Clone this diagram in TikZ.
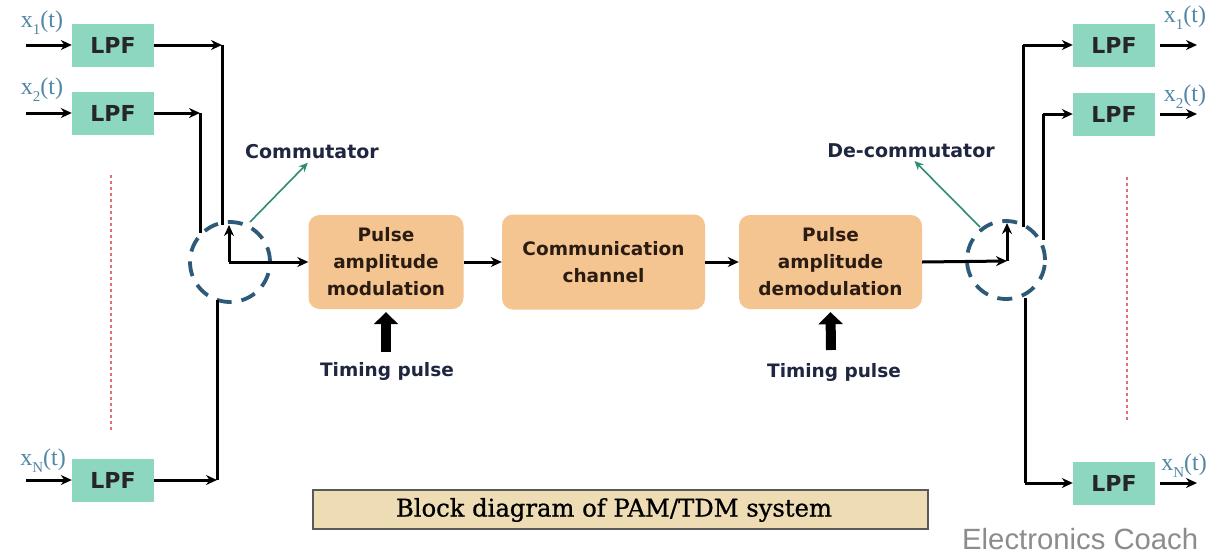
\documentclass[tikz,border=0pt]{standalone}
\usepackage{fontspec}
\usepackage{graphicx}
\usetikzlibrary{arrows.meta}
\newfontfamily\dvs{DejaVu Sans}
\newfontfamily\capfont[FakeBold=0.9]{DejaVu Serif}
\newfontfamily\lsans{Liberation Sans}
\newfontfamily\lserif{Liberation Serif}
\definecolor{lpfc}{RGB}{141,214,192}
\definecolor{orc}{RGB}{245,197,145}
\definecolor{circc}{RGB}{44,90,120}
\definecolor{navy}{RGB}{30,38,64}
\definecolor{ptr}{RGB}{46,139,116}
\definecolor{dotc}{RGB}{224,112,112}
\definecolor{capc}{RGB}{238,220,180}
\definecolor{xlab}{RGB}{80,135,165}
\definecolor{btxt}{RGB}{43,28,18}
\newcommand\xsig[1]{x\raisebox{-0.3em}{\fontsize{15}{15}\selectfont #1}(t)}
\begin{document}
\begin{tikzpicture}[x=1pt,y=-1pt,
  lpf/.style={fill=lpfc, minimum width=82pt, minimum height=43pt, inner sep=0pt, font=\dvs\bfseries\fontsize{22}{26}\selectfont, text=black!85},
  blk/.style={fill=orc, rounded corners=11pt, inner sep=0pt, align=center, font=\dvs\bfseries\fontsize{18.5}{27}\selectfont, text=btxt},
  ar/.style={line width=3pt, -{Stealth[length=11pt,width=10pt]}},
  ln/.style={line width=3pt},
  dcirc/.style={draw=circc, line width=3.8pt, dash pattern=on 15pt off 10pt},
  lab/.style={text=navy, font=\dvs\bfseries\fontsize{19}{23}\selectfont, inner sep=0pt},
  ptrline/.style={draw=ptr, line width=1.6pt, -{Stealth[length=9pt,width=8pt]}},
  dots/.style={draw=dotc, line width=1.8pt, dash pattern=on 3pt off 3pt},
  xl/.style={text=xlab, font=\lserif\fontsize{24}{26}\selectfont, inner sep=0pt},
  tarrow/.style={line width=10pt, -{Triangle[length=12pt,width=24pt]}},
]
\useasboundingbox[fill=white] (0,0) rectangle (1213,555);

% left LPFs
\node[lpf] (l1) at (113,45) {LPF};
\node[lpf] (l2) at (113,113) {LPF};
\node[lpf] (ln) at (113,480) {LPF};
% right LPFs
\node[lpf] (r1) at (1114,45) {LPF};
\node[lpf] (r2) at (1114,114) {LPF};
\node[lpf] (rn) at (1114,483) {LPF};

% main blocks
\node[blk, minimum width=155pt, minimum height=94pt] (pam) at (386,262) {Pulse\\amplitude\\modulation};
\node[blk, minimum width=203pt, minimum height=95pt] (ch) at (603.5,262) {Communication\\channel};
\node[blk, minimum width=183pt, minimum height=94pt] (dem) at (830.5,262) {Pulse\\amplitude\\demodulation};

% commutator circles
\node[circle, dcirc, minimum size=80pt, inner sep=0pt] (c1) at (230,262) {};
\node[circle, dcirc, minimum size=78pt, inner sep=0pt] (c2) at (1006,260) {};

% input labels and arrows
\node[xl] (xl1) at (42,23) {\xsig{1}};
\node[xl] (xl2) at (42,90) {\xsig{2}};
\node[xl] (xln) at (43,461) {\xsig{N}};
\coordinate (i1) at (26,45);
\coordinate (i2) at (26,113);
\coordinate (in) at (26,480);
\draw[ar] (i1) -- (l1.west);
\draw[ar] (i2) -- (l2.west);
\draw[ar] (in) -- (ln.west);

% left outputs to commutator
\coordinate (k1) at (222,45);
\coordinate (e1) at (222,225);
\coordinate (k2) at (200,113);
\coordinate (e2) at (200,233);
\coordinate (kn) at (217,480);
\coordinate (en) at (217,300);
\draw[ar] (l1.east) -- (k1);
\draw[ln] (k1) -- (e1);
\draw[ar] (l2.east) -- (k2);
\draw[ln] (k2) -- (e2);
\draw[ar] (ln.east) -- (kn);
\draw[ln] (kn) -- (en);

% commutator arm
\coordinate (a1) at (229,262);
\coordinate (a1t) at (229,225);
\draw[ar] (a1) -- (a1t);
\draw[ar] (a1) -- (pam.west);

% chain
\draw[ar] (pam.east) -- (ch.west);
\draw[ar] (ch.east) -- (dem.west);

% de-commutator arm
\coordinate (a2) at (1007,261);
\coordinate (a2t) at (1007,223);
\draw[ar] (dem.east) -- (a2);
\draw[ar] (a2) -- (a2t);

% right distribution
\coordinate (s1) at (1023,227);
\coordinate (t1) at (1023,45);
\coordinate (s2) at (1043,240);
\coordinate (t2) at (1043,114);
\coordinate (sn) at (1025,298);
\coordinate (tn) at (1025,483);
\draw[ln] (s1) -- (t1);
\draw[ar] (t1) -- (r1.west);
\draw[ln] (s2) -- (t2);
\draw[ar] (t2) -- (r2.west);
\draw[ln] (sn) -- (tn);
\draw[ar] (tn) -- (rn.west);

% outputs
\coordinate (o1) at (1197,45);
\coordinate (o2) at (1197,114);
\coordinate (on) at (1197,483);
\draw[ar] ([xshift=5pt]r1.east) -- (o1);
\draw[ar] ([xshift=5pt]r2.east) -- (o2);
\draw[ar] ([xshift=5pt]rn.east) -- (on);
\node[xl] (xr1) at (1185,18) {\xsig{1}};
\node[xl] (xr2) at (1185,97) {\xsig{2}};
\node[xl] (xrn) at (1184,466) {\xsig{N}};

% labels with pointers
\node[lab, anchor=base] (comm) at (312,158) {Commutator};
\node[lab, anchor=base] (dec) at (911,157) {De-commutator};
\coordinate (p1) at (250,222);
\coordinate (p2) at (980,227);
\draw[ptrline, shorten >=6pt] (p1) -- (comm.south);
\draw[ptrline, shorten >=5pt] (p2) -- (dec.south);

% timing pulses
\coordinate (tp1) at (386,352);
\coordinate (tp2) at (831,350);
\draw[tarrow] (tp1) -- ([yshift=-3pt]pam.south);
\draw[tarrow] (tp2) -- ([yshift=-3pt]dem.south);
\node[lab, anchor=base, font=\dvs\bfseries\fontsize{18.5}{22}\selectfont] (tl1) at (387,376) {Timing pulse};
\node[lab, anchor=base, font=\dvs\bfseries\fontsize{18.5}{22}\selectfont] (tl2) at (834,377) {Timing pulse};

% dotted continuation lines
\coordinate (d1a) at (111,175);
\coordinate (d1b) at (111,432);
\coordinate (d2a) at (1127,177);
\coordinate (d2b) at (1127,420);
\draw[dots] (d1a) -- (d1b);
\draw[dots] (d2a) -- (d2b);

% caption
\node[fill=capc, draw=black!65, line width=2.2pt, minimum width=615pt, minimum height=39pt, inner sep=0pt] (cap) at (620.5,509.5) {};
\node[inner sep=0pt] (capt) at (614,510) {\resizebox{436pt}{!}{\capfont Block diagram of PAM/TDM system}};

% watermark
\node[anchor=base west, inner sep=0pt, text=black!45] (wm) at (962,549) {\resizebox{236pt}{!}{\lsans\fontsize{28}{30}\selectfont Electronics Coach}};
\end{tikzpicture}
\end{document}
